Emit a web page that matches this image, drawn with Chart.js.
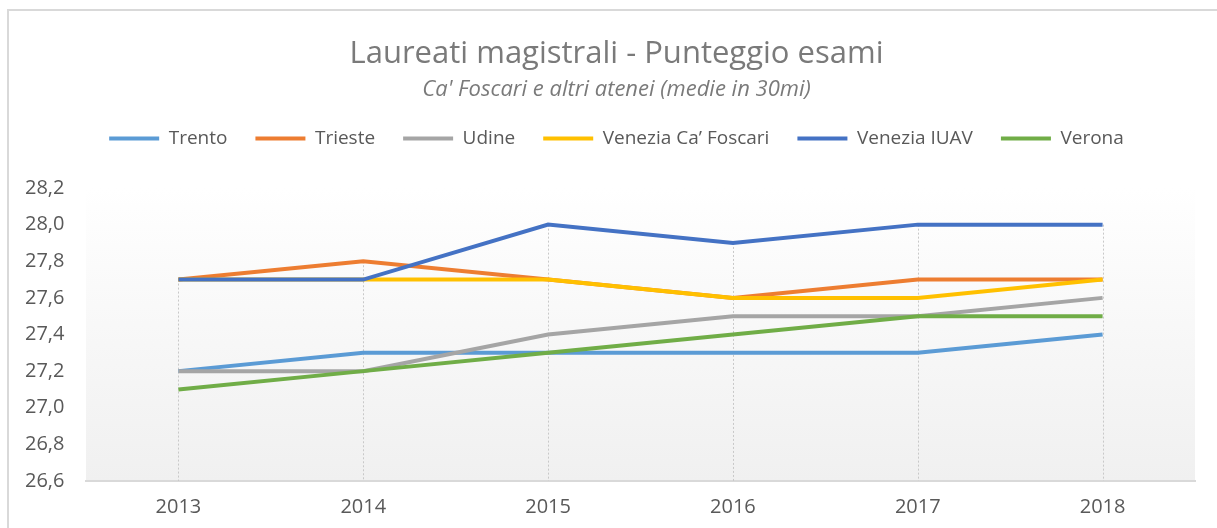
<!DOCTYPE html>
<html>
<head>
<meta charset="utf-8">
<script src="https://cdn.jsdelivr.net/npm/chart.js@4.4.1/dist/chart.umd.min.js"></script>
<style>
  html, body { margin: 0; padding: 0; background: #fff; overflow: hidden; }
  #frame {
    position: absolute; left: 7px; top: 9px; width: 1300px; height: 600px;
    border-top: 2px solid #d9d9d9; border-left: 2px solid #d9d9d9;
  }
  #wrap { position: absolute; left: 0; top: 0; width: 1217px; height: 528px; }
</style>
</head>
<body>
<div id="frame"></div>
<div id="wrap"><canvas id="exam-chart"></canvas></div>
<script>
// punteggio esami, medie in 30mi

const years = ['2013', '2014', '2015', '2016', '2017', '2018'];

const trento    = [27.2, 27.3, 27.3, 27.3, 27.3, 27.4];
const trieste   = [27.7, 27.8, 27.7, 27.6, 27.7, 27.7];
const udine     = [27.2, 27.2, 27.4, 27.5, 27.5, 27.6];
const caFoscari = [27.7, 27.7, 27.7, 27.6, 27.6, 27.7];
const iuav      = [27.7, 27.7, 28.0, 27.9, 28.0, 28.0];
const verona    = [27.1, 27.2, 27.3, 27.4, 27.5, 27.5];

const seriesNames = ['Trento', 'Trieste', 'Udine', 'Venezia Ca\u2019 Foscari', 'Venezia IUAV', 'Verona'];
const seriesData = [trento, trieste, udine, caFoscari, iuav, verona];
const seriesColors = ['#5B9BD5', '#ED7D31', '#A5A5A5', '#FFC000', '#4472C4', '#70AD47'];

const yMin = 26.6;
const yMax = 28.2;
const yStep = 0.2;

const datasets = seriesNames.map((name, i) => ({
    label: name,
    data: seriesData[i],
    borderColor: seriesColors[i],
    backgroundColor: seriesColors[i],
    borderWidth: 4,
    pointRadius: 0,
    pointHoverRadius: 0,
    tension: 0,
    order: seriesNames.length - i   // later series on top, like excel
}));

// light gradient behind the plot area
const plotBackground = {
    id: 'plotBackground',
    beforeDraw(chart) {
        const {ctx, chartArea: a} = chart;
        const g = ctx.createLinearGradient(0, a.top, 0, a.bottom);
        g.addColorStop(0, '#ffffff');
        g.addColorStop(1, '#f0f0f0');
        ctx.save();
        ctx.fillStyle = g;
        ctx.fillRect(a.left, a.top, a.right - a.left, a.bottom - a.top);
        ctx.restore();
    }
};

// dotted drop lines from the highest value down to the axis
const dropLines = {
    id: 'dropLines',
    beforeDatasetsDraw(chart) {
        const {ctx, scales: {x, y}} = chart;
        ctx.save();
        ctx.strokeStyle = '#c8c8c8';
        ctx.lineWidth = 1;
        ctx.setLineDash([2, 2]);
        years.forEach((yr, i) => {
            const top = Math.max(...seriesData.map(s => s[i]));
            const px = Math.round(x.getPixelForValue(i)) + 0.5;
            ctx.beginPath();
            ctx.moveTo(px, y.getPixelForValue(top));
            ctx.lineTo(px, y.bottom);
            ctx.stroke();
        });
        ctx.restore();
    }
};

// extra room below the legend
const legendGap = {
    id: 'legendGap',
    beforeInit(chart) {
        const fit = chart.legend.fit;
        chart.legend.fit = function () {
            fit.bind(chart.legend)();
            this.height += 30;
        };
    }
};

const config = {
    type: 'line',
    data: { labels: years, datasets: datasets },
    options: {
        responsive: true,
        maintainAspectRatio: false,
        animation: false,
        layout: { padding: { left: 38, right: 22, top: 0, bottom: 0 } },
        plugins: {
            title: {
                display: true,
                text: 'Laureati magistrali - Punteggio esami',
                color: '#7a7a7a',
                font: { family: 'Open Sans', size: 31, weight: 'normal', lineHeight: 1.2 },
                padding: { top: 35.4, bottom: 4 }
            },
            subtitle: {
                display: true,
                text: "Ca' Foscari e altri atenei (medie in 30mi)",
                color: '#7a7a7a',
                font: { family: 'Open Sans', size: 22, style: 'italic', lineHeight: 1 },
                padding: { top: 2.4, bottom: 0 }
            },
            legend: {
                display: true,
                position: 'top',
                labels: {
                    color: '#595959',
                    font: { family: 'Open Sans', size: 19 },
                    boxWidth: 50,
                    boxHeight: 4,
                    padding: 28,
                    sort: (a, b) => a.datasetIndex - b.datasetIndex,
                    generateLabels(chart) {
                        return chart.data.datasets.map((d, i) => ({
                            text: d.label,
                            fillStyle: d.borderColor,
                            strokeStyle: d.borderColor,
                            lineWidth: 0,
                            fontColor: '#595959',
                            datasetIndex: i,
                            hidden: false
                        }));
                    }
                }
            },
            tooltip: { enabled: false }
        },
        scales: {
            x: {
                offset: true,
                grid: { display: false, drawTicks: false },
                border: { display: true, color: '#d9d9d9', width: 2 },
                afterFit(scale) { scale.height = 47; },
                ticks: {
                    color: '#595959',
                    padding: 14,
                    font: { family: 'Open Sans', size: 20, lineHeight: 1.2 }
                }
            },
            y: {
                min: yMin,
                max: yMax,
                grid: { display: false, drawTicks: false },
                border: { display: false },
                afterFit(scale) { scale.width = 48; },
                ticks: {
                    stepSize: yStep,
                    color: '#595959',
                    mirror: true,
                    padding: -61,
                    font: { family: 'Open Sans', size: 20, lineHeight: 1.2 },
                    callback: (v) => v.toFixed(1).replace('.', ',')
                }
            }
        }
    },
    plugins: [plotBackground, dropLines, legendGap]
};

var examChart = new Chart(
    document.getElementById('exam-chart'),
    config
);
</script>
</body>
</html>
